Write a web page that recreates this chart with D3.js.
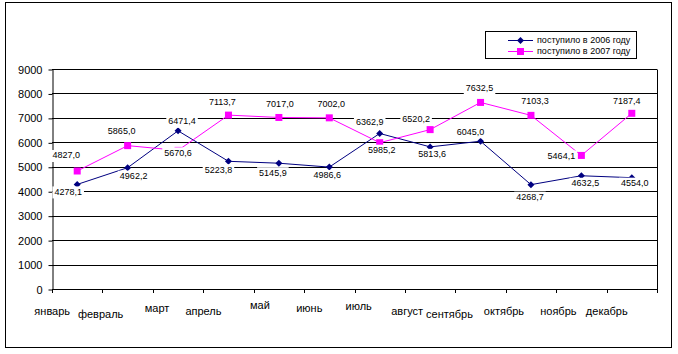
<!DOCTYPE html>
<html>
<head>
<meta charset="utf-8">
<script src="https://cdn.jsdelivr.net/npm/d3@7"></script>
<style>
	body { margin: 0; background: #fff; }
	text { font-family: Arial, "Liberation Sans", sans-serif; fill: #000; }
</style>
</head>
<body>
<div class="chart"></div>
<script>
var months = ["январь", "февраль", "март", "апрель", "май", "июнь", "июль", "август", "сентябрь", "октябрь", "ноябрь", "декабрь"];
var values2006 = [4278.1, 4962.2, 6471.4, 5223.8, 5145.9, 4986.6, 6362.9, 5813.6, 6045.0, 4268.7, 4632.5, 4554.0];
var values2007 = [4827.0, 5865.0, 5670.6, 7113.7, 7017.0, 7002.0, 5985.2, 6520.2, 7632.5, 7103.3, 5464.1, 7187.4];
var yTicks = [0, 1000, 2000, 3000, 4000, 5000, 6000, 7000, 8000, 9000];
var seriesNames = ["поступило в 2006 году", "поступило в 2007 году"];

// hand-placed label offsets (pixels from the point), as in the original sheet
var labelDx2006 = [-9, 6, 4, -10, -6, -2, -10, 2, -10, -1, 4, 3];
var labelDy2006 = [8, 9, -9, 9, 10, 9, -11, 8, -9, 13, 8, 6];
var labelDx2007 = [-11, -6, 0, -6, 1, 2, 2, -14, -1, 4, -20, -5];
var labelDy2007 = [-15, -14, 3, -12, -13, -13, 8, -10, -14, -14, 1, -12];
var monthDx = [-25, -27, -21, -25, -19, -20, -21, -23, -31, -27, -23, -25];
var monthDy = [23, 26, 20, 23, 17, 20, 18, 23, 26, 23, 23, 23];

var svg = d3.select(".chart").append("svg").attr("width", 678).attr("height", 354);
var plot = {left: 52, right: 657, top: 69, bottom: 289};

var x = d3.scaleBand().domain(months).range([plot.left, plot.right]);
var y = d3.scaleLinear().domain([0, 9000]).range([plot.bottom, plot.top]);

var color2006 = "#000080";
var color2007 = "#ff00ff";

function fmt(v) { return v.toFixed(1).replace(".", ","); }
function cx(i) { return x(months[i]) + x.bandwidth() / 2; }

// outer frame
svg.append("rect")
	.attr("x", 5.5).attr("y", 2.5)
	.attr("width", 666).attr("height", 345)
	.attr("fill", "none").attr("stroke", "#000");

// gridlines
svg.append("g").selectAll("line").data(yTicks).enter().append("line")
	.attr("x1", plot.left).attr("x2", plot.right)
	.attr("y1", function(d) { return Math.round(y(d)) + 0.5; })
	.attr("y2", function(d) { return Math.round(y(d)) + 0.5; })
	.attr("stroke", "#000");

svg.append("line")
	.attr("x1", plot.right + 0.5).attr("x2", plot.right + 0.5)
	.attr("y1", plot.top + 0.5).attr("y2", plot.bottom + 0.5)
	.attr("stroke", "#000");

// y axis
var yAxis = d3.axisLeft(y).tickValues(yTicks).tickFormat(d3.format("d"))
	.tickSize(4).tickSizeOuter(0).tickPadding(6);
var gy = svg.append("g").attr("transform", "translate(" + (plot.left + 0.5) + ",0.5)").call(yAxis);
gy.selectAll("text").attr("font-size", 11).attr("font-family", "Arial, 'Liberation Sans', sans-serif");

// x axis ticks at category boundaries
var bounds = months.map(function(m) { return x(m); }).concat([plot.right]);
svg.append("g").selectAll("line").data(bounds).enter().append("line")
	.attr("x1", function(d) { return Math.round(d) + 0.5; })
	.attr("x2", function(d) { return Math.round(d) + 0.5; })
	.attr("y1", plot.bottom).attr("y2", plot.bottom + 4)
	.attr("stroke", "#000");

svg.append("g").selectAll("text").data(months).enter().append("text")
	.attr("x", function(d, i) { return cx(i) + monthDx[i]; })
	.attr("y", function(d, i) { return plot.bottom + monthDy[i]; })
	.attr("text-anchor", "middle")
	.attr("dominant-baseline", "middle")
	.attr("font-size", 11)
	.text(function(d) { return d; });

// series
var line = d3.line()
	.x(function(d, i) { return cx(i); })
	.y(function(d) { return y(d); });

function diamond(g, px, py, col) {
	g.append("path")
		.attr("d", "M" + px + "," + (py - 3.5) + "L" + (px + 3.5) + "," + py + "L" + px + "," + (py + 3.5) + "L" + (px - 3.5) + "," + py + "Z")
		.attr("fill", col);
}
function square(g, px, py, col) {
	g.append("rect")
		.attr("x", px - 3.5).attr("y", py - 3.5)
		.attr("width", 7).attr("height", 7)
		.attr("fill", col);
}

var series = [
	{values: values2006, color: color2006, marker: diamond, dx: labelDx2006, dy: labelDy2006},
	{values: values2007, color: color2007, marker: square, dx: labelDx2007, dy: labelDy2007}
];

series.forEach(function(s) {
	svg.append("path")
		.datum(s.values)
		.attr("d", line)
		.attr("fill", "none")
		.attr("stroke", s.color)
		.attr("stroke-width", 1);
	var gm = svg.append("g");
	s.values.forEach(function(v, i) { s.marker(gm, cx(i), y(v), s.color); });
});

// data labels with white backgrounds
series.forEach(function(s) {
	s.values.forEach(function(v, i) {
		var lx = cx(i) + s.dx[i];
		var ly = y(v) + s.dy[i];
		var g = svg.append("g");
		var bg = g.append("rect").attr("fill", "#fff");
		var t = g.append("text")
			.attr("x", lx).attr("y", ly)
			.attr("text-anchor", "middle")
			.attr("dominant-baseline", "middle")
			.attr("font-size", 9)
			.text(fmt(v));
		var w = t.node().getComputedTextLength();
		bg.attr("x", lx - w / 2 - 2).attr("y", ly - 6)
			.attr("width", w + 4).attr("height", 12);
	});
});

// legend
var legend = svg.append("g");
legend.append("rect")
	.attr("x", 485.5).attr("y", 31.5)
	.attr("width", 151).attr("height", 27)
	.attr("fill", "#fff").attr("stroke", "#000");

series.forEach(function(s, i) {
	var ly = 40 + i * 11;
	legend.append("line")
		.attr("x1", 508).attr("x2", 533)
		.attr("y1", ly + 0.5).attr("y2", ly + 0.5)
		.attr("stroke", s.color);
	s.marker(legend, 520.5, ly + 0.5, s.color);
	legend.append("text")
		.attr("x", 537).attr("y", ly + 1)
		.attr("dominant-baseline", "middle")
		.attr("font-size", 9)
		.text(seriesNames[i]);
});
</script>
</body>
</html>
